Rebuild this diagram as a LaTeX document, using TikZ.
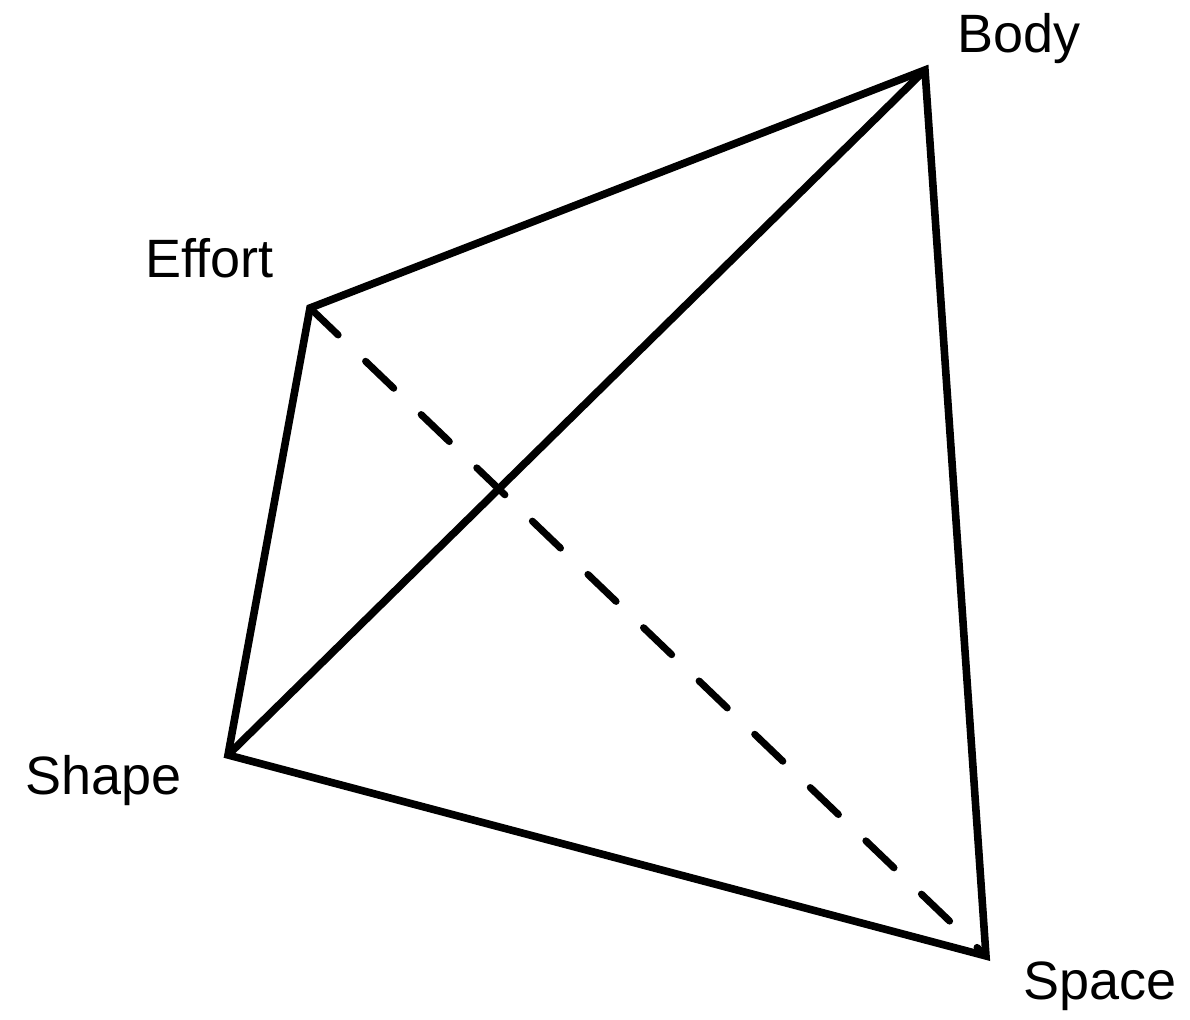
\documentclass[tikz,border=0pt]{standalone}
\usepackage{fontspec}
\setmainfont{Liberation Sans}
\usetikzlibrary{calc}

\tikzset{
    edge/.style={draw=black, line width=3.8pt},
    hidden edge/.style={draw=black, line width=3.5pt, line cap=round, dash pattern=on 19.5pt off 19pt},
    vertex label/.style={anchor=base west, inner sep=0pt, font=\fontsize{27}{32}\selectfont}
}

\begin{document}
\begin{tikzpicture}[x=0.5pt, y=-0.5pt]
    \useasboundingbox (0,0) rectangle (1190,1020);

    % vertices
    \coordinate (body) at (925,70);
    \coordinate (effort) at (310,308);
    \coordinate (shape) at (228,755);
    \coordinate (space) at (986,956);

    % labels
    \node[vertex label] (bodylbl) at (957,53) {Body};
    \node[vertex label] (effortlbl) at (145,278) {Effort};
    \node[vertex label] (shapelbl) at (25,795) {Shape};
    \node[vertex label] (spacelbl) at (1023,1000) {Space};

    % edges
    \draw[hidden edge] (effort) -- (space);
    \draw[edge] (shape) -- (effort) -- (body) -- (space) -- cycle;
    \draw[edge] (shape) -- (body);
\end{tikzpicture}
\end{document}
